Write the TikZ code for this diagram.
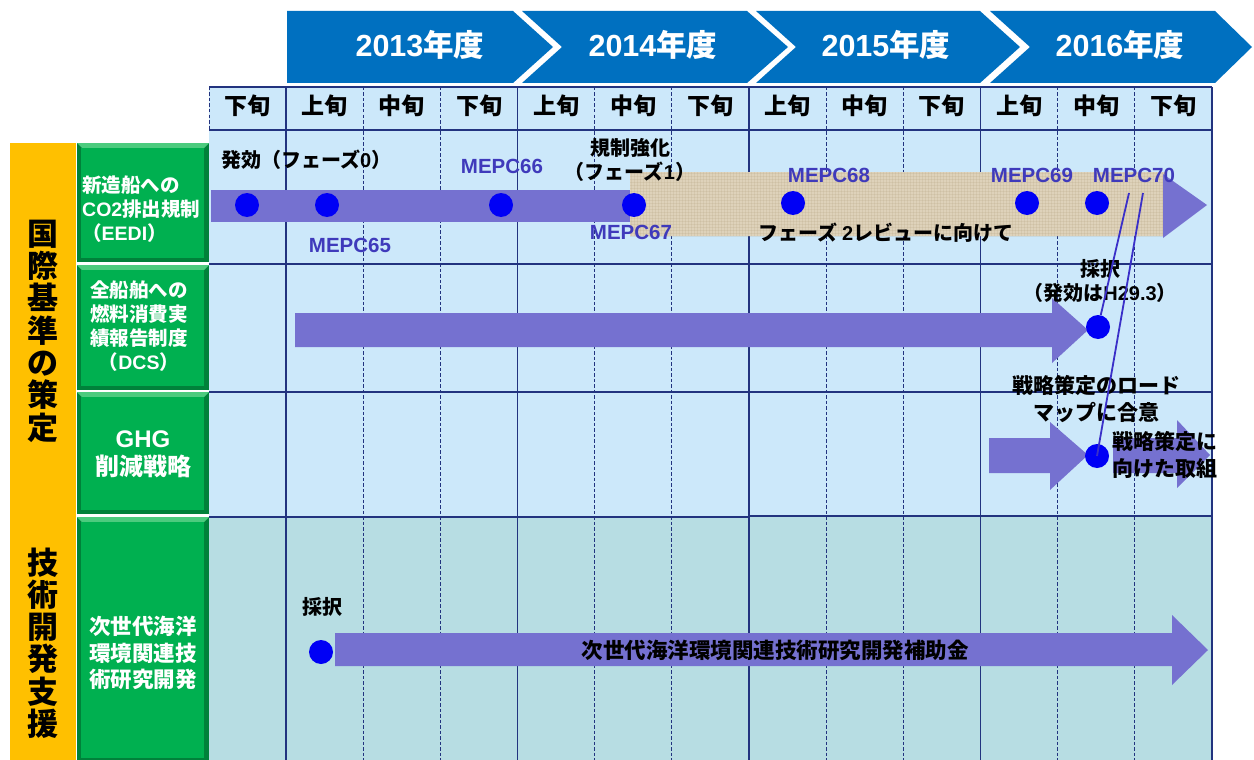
\documentclass[tikz,border=0pt]{standalone}
\usepackage{fontspec}
\setmainfont{Noto Sans CJK JP}
\newfontfamily\lat{Liberation Sans}
\definecolor{yr}{HTML}{0070C0}
\definecolor{gridbg}{HTML}{CCE8FA}
\definecolor{tealbg}{HTML}{B7DDE3}
\definecolor{navy}{HTML}{22337F}
\definecolor{purp}{HTML}{7571D0}
\definecolor{dotblue}{HTML}{0000F5}
\definecolor{mepc}{HTML}{3F3ABB}
\definecolor{orng}{HTML}{FFC000}
\definecolor{grn}{HTML}{00B050}
\definecolor{grndark}{HTML}{00813A}
\definecolor{grnlight}{HTML}{4CCB7E}
\definecolor{beige}{HTML}{DED2BA}
\definecolor{beigeline}{HTML}{B8A684}
\definecolor{linkblue}{HTML}{3A2FC8}
\newcommand{\gbox}[4]{%
  \fill[grndark] (#1,#2) rectangle (#3,#4);
  \fill[grnlight] (#1,#2) -- (#3,#2) -- ({#3-5},{#2+5}) -- ({#1+5},{#2+5}) -- cycle;
  \fill[grn] ({#1+4},{#2+5}) rectangle ({#3-5},{#4-4});
}
\begin{document}
\begin{tikzpicture}[x=1pt,y=-1pt,
  solidln/.style={navy,line width=1.6pt},
  dashln/.style={navy,line width=0.9pt,dash pattern=on 3.5pt off 2pt},
  yearbox/.style={fill=yr,draw=none},
  yeartext/.style={text=white,font=\bfseries\fontsize{30.5}{32}\selectfont,inner sep=0},
  period/.style={font=\bfseries\fontsize{23}{25}\selectfont,inner sep=0},
  greentext/.style={text=white,font=\bfseries\fontsize{19.5}{24}\selectfont,inner sep=0},
  bdot/.style={circle,fill=dotblue,minimum size=24pt,inner sep=0},
  mepclab/.style={text=mepc,font=\lat\bfseries\fontsize{20.5}{22}\selectfont,inner sep=0},
  notetext/.style={font=\bfseries\fontsize{20}{24.5}\selectfont,inner sep=0,align=center},
  vlab/.style={font=\bfseries\fontsize{31}{32.3}\selectfont,inner sep=0,align=center},
  linkln/.style={linkblue,line width=1.8pt}
]
\useasboundingbox[fill=white] (0,0) rectangle (1254,760);

% year chevrons
\fill[yearbox] (287,11) -- (513,11) -- (553,47) -- (513,83) -- (287,83) -- cycle;
\fill[yearbox] (522,11) -- (747,11) -- (788,47) -- (747,83) -- (522,83) -- (562,47) -- cycle;
\fill[yearbox] (756,11) -- (980,11) -- (1020,47) -- (980,83) -- (756,83) -- (796,47) -- cycle;
\fill[yearbox] (990,11) -- (1215,11) -- (1252,47) -- (1215,83) -- (990,83) -- (1030,47) -- cycle;
\node[yeartext] (y1) at (420,45) {{\lat 2013}年度};
\node[yeartext] (y2) at (653,45) {{\lat 2014}年度};
\node[yeartext] (y3) at (886,45) {{\lat 2015}年度};
\node[yeartext] (y4) at (1120,45) {{\lat 2016}年度};

% orange band
\fill[orng] (10,143) rectangle (76,760);
\node[vlab] (v1) at (43,331) {国\\際\\基\\準\\の\\策\\定};
\node[vlab] (v2) at (43,643) {技\\術\\開\\発\\支\\援};

% grid
\fill[gridbg] (209,87) rectangle (1212,516);
\fill[tealbg] (209,516) rectangle (1212,760);
\foreach \i in {2,3,5,6,8,9,11,12}
  \draw[dashln] ({209+\i*77.154},87) -- ({209+\i*77.154},760);
\draw[dashln] (209,87) -- (209,130);
\foreach \yy in {87,130,264,392}
  \draw[solidln] (209,\yy) -- (1212,\yy);
\draw[solidln] (750,516) -- (1212,516);
\draw[navy,line width=2.6pt] (209,517) -- (750,517);
\foreach \i in {1,4,7,10,13}
  \draw[solidln] ({209+\i*77.154},87) -- ({209+\i*77.154},760);
\foreach \i/\t in {0/下旬,1/上旬,2/中旬,3/下旬,4/上旬,5/中旬,6/下旬,7/上旬,8/中旬,9/下旬,10/上旬,11/中旬,12/下旬}
  \node[period] (p\i) at ({209+(\i+0.5)*77.154},106) {\t};

% green boxes
\gbox{77}{143}{209}{262}
\gbox{77}{265}{209}{390}
\gbox{77}{392}{209}{514}
\gbox{77}{517}{209}{762}
\node[greentext,align=left,anchor=west] (g1) at (82,209) {新造船への\\{\lat CO2}排出規制\\（{\lat EEDI}）};
\node[greentext,align=center] (g2) at (139,326) {全船舶への\\燃料消費実\\績報告制度\\（{\lat DCS}）};
\node[greentext,align=center,font=\bfseries\fontsize{24}{28}\selectfont] (g3) at (143,454) {{\lat GHG}\\削減戦略};
\node[greentext,align=center,font=\bfseries\fontsize{21.5}{26.5}\selectfont] (g4) at (143,653) {次世代海洋\\環境関連技\\術研究開発};

% row 1
\fill[purp] (211,190) rectangle (634,222);
\fill[beige] (630,172) rectangle (1165,236);
\begin{scope}
  \clip (630,172) rectangle (1165,236);
  \foreach \x in {631,634,...,1165}
    \draw[beigeline,line width=0.35pt,opacity=0.22] (\x,172) -- (\x,236);
  \foreach \y in {173,176,...,236}
    \draw[beigeline,line width=0.35pt,opacity=0.22] (630,\y) -- (1165,\y);
\end{scope}
\fill[purp] (1163,174) -- (1207,205) -- (1163,238) -- cycle;

% rows 2-4 arrows
\fill[purp] (295,313) -- (1052,313) -- (1052,298) -- (1088,330) -- (1052,363) -- (1052,347) -- (295,347) -- cycle;
\fill[purp] (989,438) -- (1050,438) -- (1050,422) -- (1088,455) -- (1050,490) -- (1050,473) -- (989,473) -- cycle;
\fill[purp] (1113,438) -- (1177,438) -- (1177,420) -- (1210,455) -- (1177,488) -- (1177,473) -- (1113,473) -- cycle;
\fill[purp] (335,633) -- (1172,633) -- (1172,615) -- (1208,650) -- (1172,685) -- (1172,666) -- (335,666) -- cycle;

% dots
\node[bdot] (d1) at (247,205) {};
\node[bdot] (d2) at (327,205) {};
\node[bdot] (d3) at (501,205) {};
\node[bdot] (d4) at (634,205) {};
\node[bdot] (d5) at (793,203) {};
\node[bdot] (d6) at (1027,203) {};
\node[bdot] (d7) at (1097,203) {};
\node[bdot] (d8) at (1098,327) {};
\node[bdot] (d9) at (1097,456) {};
\node[bdot] (d10) at (321,652) {};

% labels
\node[notetext,anchor=west] (t0) at (221,160) {発効（フェーズ{\lat 0}）};
\node[mepclab] (m65) at (350,245) {MEPC65};
\node[mepclab] (m66) at (502,166) {MEPC66};
\node[mepclab] (m67) at (631,232) {MEPC67};
\node[mepclab] (m68) at (829,175) {MEPC68};
\node[mepclab] (m69) at (1032,175) {MEPC69};
\node[mepclab] (m70) at (1134,175) {MEPC70};
\node[notetext] (t1) at (630,160) {規制強化\\（フェーズ{\lat 1}）};
\node[notetext,anchor=west] (t2) at (758,233) {フェーズ\hspace{5pt}{\lat 2}レビューに向けて};
\node[notetext] (t3) at (1100,281) {採択\\（発効は{\lat H29.3}）};
\node[notetext,font=\bfseries\fontsize{21}{27}\selectfont] (t4) at (1096,399) {戦略策定のロード\\マップに合意};
\node[notetext,align=left,anchor=west,font=\bfseries\fontsize{21}{27}\selectfont] (t5) at (1112,455) {戦略策定に\\向けた取組};
\node[notetext] (t6) at (322,607) {採択};
\node[notetext,font=\bfseries\fontsize{21.5}{24}\selectfont] (t7) at (775,650) {次世代海洋環境関連技術研究開発補助金};

% links from MEPC70
\coordinate (m70a) at (1129,193);
\coordinate (m70b) at (1143,193);
\draw[linkln] (m70a) -- (d8);
\draw[linkln] (m70b) -- (d9.center);
\end{tikzpicture}
\end{document}
